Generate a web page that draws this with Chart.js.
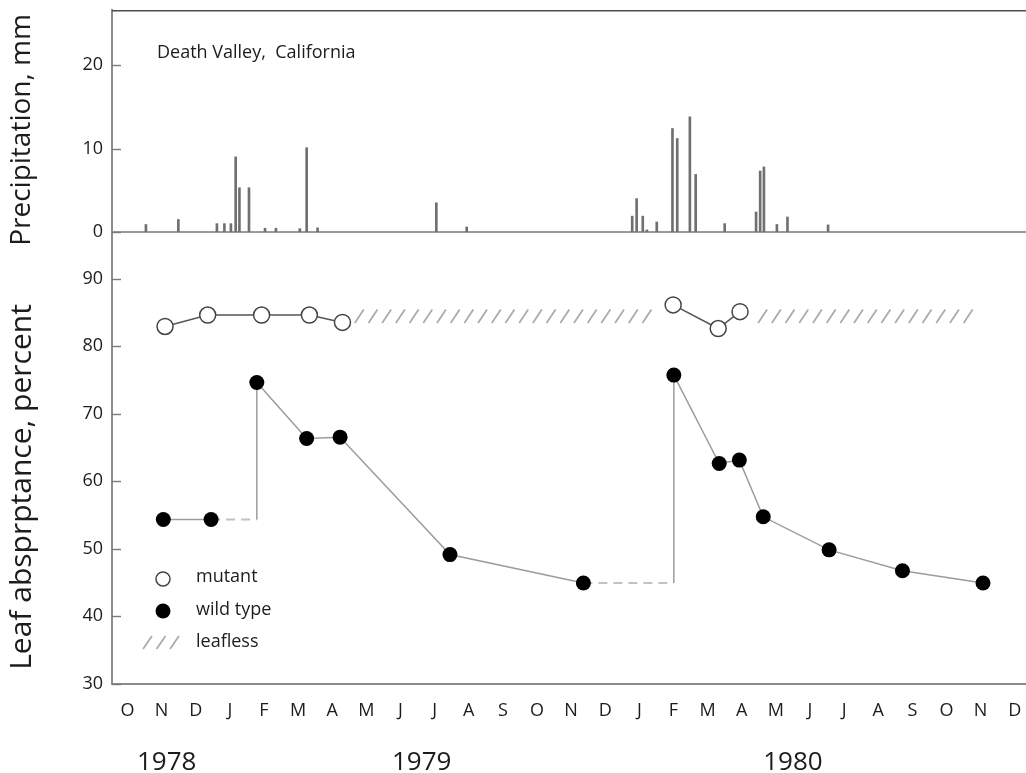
<!DOCTYPE html>
<html>
<head>
<meta charset="utf-8">
<script src="https://cdn.jsdelivr.net/npm/chart.js@4.4.1/dist/chart.umd.min.js"></script>
<style>
  html, body { margin: 0; padding: 0; background: #fff; }
  #wrap { width: 1026px; height: 773px; position: relative; }
</style>
</head>
<body>
<div id="wrap"><canvas id="c" width="1026" height="773"></canvas></div>
<script>
// Time runs in months counted from October 1978 (0 = Oct 1978 ... 26 = Dec 1980)
const monthLetters = ['O','N','D','J','F','M','A','M','J','J','A','S','O',
                      'N','D','J','F','M','A','M','J','J','A','S','O','N','D'];
const yearLabels = ['1978', '1979', '1980'];
const yearLabelAt = [1.15, 8.62, 19.5];

// Daily rainfall events at Death Valley (mm)
const rainMonths = [0.54, 1.49, 2.62, 2.84, 3.03, 3.17, 3.28, 3.56, 4.03, 4.35, 5.05, 5.25, 5.57,
                    9.05, 9.94, 14.79, 14.92, 15.10, 15.22, 15.51, 15.97, 16.11, 16.48, 16.65,
                    17.50, 18.42, 18.54, 18.65, 19.03, 19.34, 20.53];
const rainMm     = [0.9, 1.5, 1.0, 1.0, 1.0, 9.0, 5.3, 5.3, 0.45, 0.45, 0.4, 10.1, 0.5,
                    3.5, 0.6, 1.9, 4.0, 1.9, 0.25, 1.2, 12.4, 11.2, 13.8, 6.9,
                    1.0, 2.4, 7.3, 7.8, 0.9, 1.8, 0.85];

// Leaf absorptance of the mutant (%), one run per leafy season
const mutantMonths1979 = [1.10, 2.35, 3.93, 5.33, 6.30];
const mutantValues1979 = [82.9, 84.6, 84.6, 84.6, 83.5];
const mutantMonths1980 = [15.99, 17.31, 17.95];
const mutantValues1980 = [86.1, 82.6, 85.1];

// Leaf absorptance of the wild type (%)
const wildMonths = [1.05, 2.45, 3.79, 5.25, 6.23, 9.45, 13.36, 16.01, 17.34, 17.93, 18.63, 20.56, 22.71, 25.07];
const wildValues = [54.3, 54.3, 74.6, 66.3, 66.5, 49.1, 44.9, 75.7, 62.6, 63.1, 54.7, 49.8, 46.7, 44.9];
// value carried forward (dashed) after these samples until the next one
const wildHeldAfter = [1, 6];

// Periods when the mutant had no leaves
const leaflessStart = [6.66, 18.48];
const leaflessEnd   = [15.70, 25.12];
const leaflessBand  = [83.4, 85.4];

const FONT = '"Open Sans", "DejaVu Sans", sans-serif';
const INK = '#1c1c1c';

const pts = (xs, ys) => xs.map((x, i) => ({ x, y: ys[i] }));

// Wild-type connecting trace: held values run level, then rise to the next sample
const wildTrace = [];
const heldSegments = new Set();
wildMonths.forEach((m, i) => {
  wildTrace.push({ x: m, y: wildValues[i] });
  if (wildHeldAfter.includes(i)) {
    heldSegments.add(wildTrace.length - 1);
    wildTrace.push({ x: wildMonths[i + 1], y: wildValues[i] });
  }
});

const keepTicks = step => scale => {
  scale.ticks = scale.ticks.filter(t => Math.abs(t.value / step - Math.round(t.value / step)) < 1e-6);
};
// let the plot area run right up to the canvas edges
const noPadding = s => { s.paddingLeft = 0; s.paddingRight = 0; s.paddingTop = 0; s.paddingBottom = 0; };

const decor = {
  id: 'decor',
  beforeDatasetsDraw(chart) {
    const { ctx, chartArea: a, scales } = chart;
    const x = scales.x, yr = scales.yRain, yl = scales.yLeaf;
    ctx.save();
    // frame top and panel divider
    ctx.lineCap = 'butt';
    ctx.strokeStyle = '#4d4d4d'; ctx.lineWidth = 1.6;
    ctx.beginPath(); ctx.moveTo(a.left, a.top + 0.8); ctx.lineTo(a.right, a.top + 0.8); ctx.stroke();
    const y0 = yr.getPixelForValue(0);
    ctx.strokeStyle = '#9a9a9a'; ctx.lineWidth = 2.2;
    ctx.beginPath(); ctx.moveTo(a.left, y0); ctx.lineTo(a.right, y0); ctx.stroke();
    // inward tick marks
    ctx.strokeStyle = '#7a7a7a'; ctx.lineWidth = 1.4;
    [yr, yl].forEach(s => s.ticks.forEach(t => {
      const py = Math.round(s.getPixelForValue(t.value)) + 0.5;
      ctx.beginPath(); ctx.moveTo(a.left, py); ctx.lineTo(a.left + 9, py); ctx.stroke();
    }));
    // leafless hatching
    ctx.strokeStyle = '#ababab'; ctx.lineWidth = 1.8;
    const yLo = yl.getPixelForValue(leaflessBand[0]);
    const yHi = yl.getPixelForValue(leaflessBand[1]);
    leaflessStart.forEach((s, i) => {
      const x0 = x.getPixelForValue(s), x1 = x.getPixelForValue(leaflessEnd[i]);
      for (let px = x0; px + 9 <= x1 + 0.5; px += 13.7) {
        ctx.beginPath(); ctx.moveTo(px, yLo); ctx.lineTo(px + 9, yHi); ctx.stroke();
      }
    });
    ctx.restore();
  },
  afterDraw(chart) {
    const { ctx, scales } = chart;
    const x = scales.x;
    ctx.save();
    ctx.fillStyle = INK;
    // station name
    ctx.font = '18px ' + FONT;
    ctx.textAlign = 'left'; ctx.textBaseline = 'middle';
    ctx.fillText('Death Valley,  California', 157, 53);
    // legend
    ctx.font = '18px ' + FONT;
    ctx.fillText('mutant', 196, 577);
    ctx.fillText('wild type', 196, 609.5);
    ctx.fillText('leafless', 196, 641.5);
    ctx.lineWidth = 1.5; ctx.strokeStyle = '#444';
    ctx.beginPath(); ctx.arc(163, 579, 7, 0, Math.PI * 2);
    ctx.fillStyle = '#fff'; ctx.fill(); ctx.stroke();
    ctx.beginPath(); ctx.arc(163, 611, 7.5, 0, Math.PI * 2);
    ctx.fillStyle = '#000'; ctx.fill();
    ctx.strokeStyle = '#ababab'; ctx.lineWidth = 1.8;
    [143, 156.5, 170].forEach(px => {
      ctx.beginPath(); ctx.moveTo(px, 649); ctx.lineTo(px + 9, 636); ctx.stroke();
    });
    // axis titles
    ctx.fillStyle = INK;
    ctx.textAlign = 'center'; ctx.textBaseline = 'middle';
    [['Precipitation, mm', 130, 28], ['Leaf absprptance, percent', 487, 30]].forEach(([t, cy, size]) => {
      ctx.font = size + 'px ' + FONT;
      ctx.save(); ctx.translate(22, cy); ctx.rotate(-Math.PI / 2); ctx.fillText(t, 0, 0); ctx.restore();
    });
    // year labels under the month letters
    ctx.font = '26px ' + FONT;
    ctx.textBaseline = 'alphabetic';
    yearLabels.forEach((t, i) => ctx.fillText(t, x.getPixelForValue(yearLabelAt[i]), 770));
    ctx.restore();
  }
};

new Chart(document.getElementById('c'), {
  data: {
    datasets: [
      { type: 'scatter', label: 'wild type', yAxisID: 'yLeaf', data: pts(wildMonths, wildValues),
        showLine: false, pointRadius: 7.5, pointBackgroundColor: '#000', pointBorderColor: '#000',
        pointBorderWidth: 0, order: 0 },
      { type: 'scatter', label: 'mutant', yAxisID: 'yLeaf', data: pts(mutantMonths1979, mutantValues1979),
        showLine: true, borderColor: '#555', borderWidth: 1.5, pointRadius: 8,
        pointBackgroundColor: '#fff', pointBorderColor: '#444', pointBorderWidth: 1.5, order: 0 },
      { type: 'scatter', label: 'mutant', yAxisID: 'yLeaf', data: pts(mutantMonths1980, mutantValues1980),
        showLine: true, borderColor: '#555', borderWidth: 1.5, pointRadius: 8,
        pointBackgroundColor: '#fff', pointBorderColor: '#444', pointBorderWidth: 1.5, order: 0 },
      { type: 'line', label: 'wild type trace', yAxisID: 'yLeaf', data: wildTrace,
        pointRadius: 0, borderWidth: 1.5, borderColor: '#9c9c9c', tension: 0, fill: false,
        segment: {
          borderDash: c => heldSegments.has(c.p0DataIndex) ? [9, 6] : undefined,
          borderColor: c => heldSegments.has(c.p0DataIndex) ? '#c2c2c2' : '#9c9c9c',
          borderWidth: c => heldSegments.has(c.p0DataIndex) ? 2 : 1.5
        },
        order: 1 },
      { type: 'bar', label: 'precipitation', yAxisID: 'yRain', data: pts(rainMonths, rainMm),
        barThickness: 2, backgroundColor: '#707070', borderWidth: 0, order: 2 }
    ]
  },
  options: {
    responsive: false,
    animation: false,
    events: [],
    layout: { autoPadding: false, padding: { top: 10, right: 0, left: 0, bottom: 0 } },
    plugins: { legend: { display: false }, tooltip: { enabled: false } },
    scales: {
      x: {
        type: 'linear', position: 'bottom', min: -0.454, max: 26.33, offset: false,
        afterBuildTicks: s => { s.ticks = monthLetters.map((_, i) => ({ value: i })); },
        ticks: { callback: v => monthLetters[v], autoSkip: false, maxRotation: 0,
                 font: { family: FONT, size: 18 }, color: INK, padding: 17 },
        grid: { display: false, drawTicks: false, offset: false },
        border: { display: true, color: '#8c8c8c', width: 2 },
        afterFit: s => { s.height = 89.5; noPadding(s); }
      },
      yLeaf: {
        type: 'linear', position: 'left', stack: 'panels', stackWeight: 451.5,
        min: 30, max: 96.9,
        afterBuildTicks: keepTicks(10),
        ticks: { stepSize: 10, font: { family: FONT, size: 18 }, color: INK, padding: 9 },
        grid: { display: false, drawTicks: false },
        border: { display: true, color: '#8c8c8c', width: 2 },
        afterFit: s => { s.width = 112; noPadding(s); }
      },
      yRain: {
        type: 'linear', position: 'left', stack: 'panels', stackWeight: 222,
        min: 0, max: 26.6,
        afterBuildTicks: keepTicks(10),
        ticks: { stepSize: 10, font: { family: FONT, size: 18 }, color: INK, padding: 9 },
        grid: { display: false, drawTicks: false },
        border: { display: true, color: '#8c8c8c', width: 2 },
        afterFit: s => { s.width = 112; noPadding(s); }
      }
    }
  },
  plugins: [decor]
});
</script>
</body>
</html>
